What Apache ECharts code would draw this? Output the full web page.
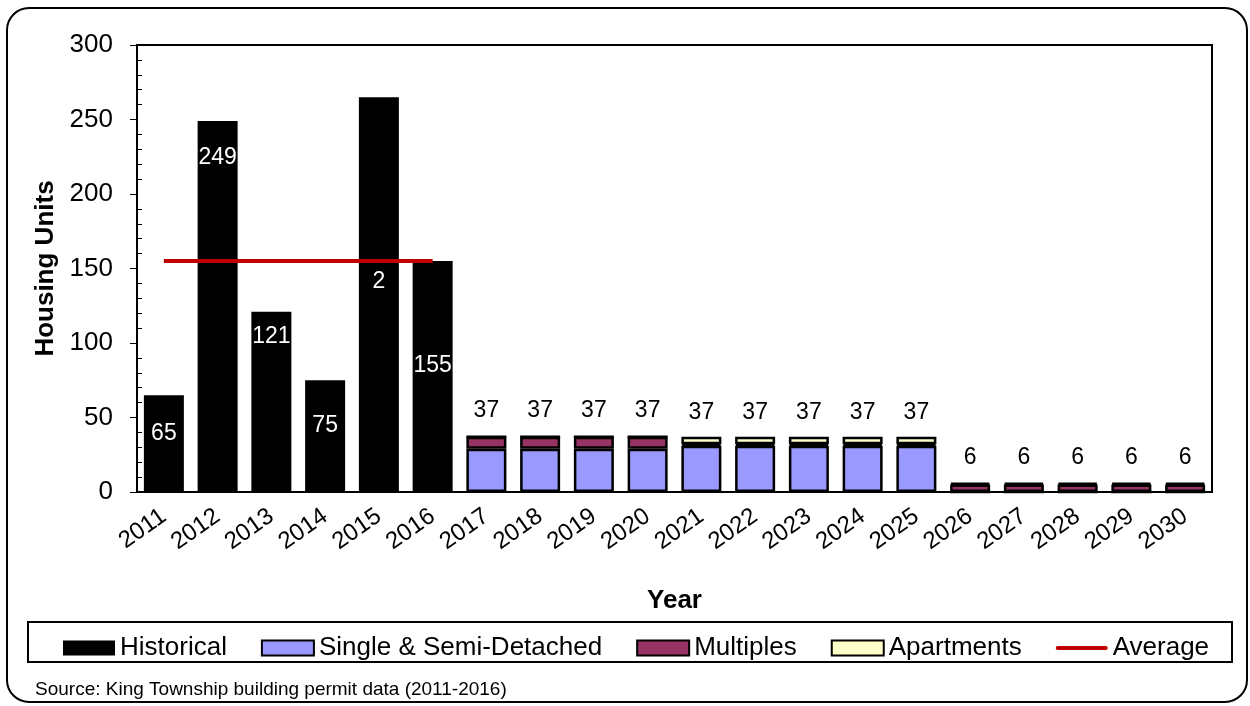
<!DOCTYPE html>
<html>
<head>
<meta charset="utf-8">
<script src="https://cdn.jsdelivr.net/npm/echarts@6/dist/echarts.min.js"></script>
<style>
  html, body { margin: 0; padding: 0; background: #fff; }
  #chart { width: 1250px; height: 706px; }
</style>
</head>
<body>
<div id="chart"></div>
<script>
// chart data
var years = ['2011', '2012', '2013', '2014', '2015', '2016', '2017', '2018', '2019', '2020',
             '2021', '2022', '2023', '2024', '2025', '2026', '2027', '2028', '2029', '2030'];
var historical = [65, 249, 121, 75, 265, 155, null, null, null, null,
                  null, null, null, null, null, null, null, null, null, null];
var historicalLabels = ['65', '249', '121', '75', '2', '155'];
var single = [null, null, null, null, null, null, 29, 29, 29, 29, 31, 31, 31, 31, 31, 0, 0, 0, 0, 0];
var multiples = [null, null, null, null, null, null, 8, 8, 8, 8, 1, 1, 1, 1, 1, 5, 5, 5, 5, 5];
var apartments = [null, null, null, null, null, null, 0, 0, 0, 0, 5, 5, 5, 5, 5, 1, 1, 1, 1, 1];
var totals = [null, null, null, null, null, null, 37, 37, 37, 37, 37, 37, 37, 37, 37, 6, 6, 6, 6, 6];
var average = [155, 155, 155, 155, 155, 155, null, null, null, null,
               null, null, null, null, null, null, null, null, null, null];
var yTicks = [0, 50, 100, 150, 200, 250, 300];

document.addEventListener('DOMContentLoaded', function() {
    var font = '"Liberation Sans", Arial, sans-serif';
    var chart = echarts.init(document.getElementById('chart'));

    // where the white labels sit inside the historical bars (px below bar top)
    var histDistance = [27, 25, 13, 34, 173, 93];

    var histData = historical.map(function(v, i) {
        if (v == null) return v;
        return {
            value: v,
            label: { distance: histDistance[i] }
        };
    });

    var stackStyle = { borderColor: '#000', borderWidth: 2.5 };

    var option = {
        animation: false,
        textStyle: { fontFamily: font },
        grid: {
            left: 137, right: 38, top: 45, bottom: 214,
            show: true, borderColor: '#000', borderWidth: 2
        },
        legend: {
            left: 58, top: 630,
            itemWidth: 52, itemHeight: 15, itemGap: 34,
            textStyle: { fontSize: 26, color: '#000', fontFamily: font },
            data: [
                { name: 'Historical', icon: 'rect' },
                { name: 'Single & Semi-Detached', icon: 'rect' },
                { name: 'Multiples', icon: 'rect' },
                { name: 'Apartments', icon: 'rect' },
                { name: 'Average', icon: 'path://M2,0 L98,0 A4,4 0 0 1 98,8 L2,8 A4,4 0 0 1 2,0 Z' }
            ]
        },
        xAxis: {
            type: 'category',
            data: years,
            name: 'Year',
            nameLocation: 'middle',
            nameGap: 96,
            nameTextStyle: { fontSize: 26, fontWeight: 'bold', color: '#000' },
            axisLine: { lineStyle: { color: '#000', width: 2 } },
            axisTick: { lineStyle: { color: '#000' }, length: 6 },
            axisLabel: { interval: 0, rotate: 35, fontSize: 24, color: '#000', margin: 22 }
        },
        yAxis: [{
            type: 'value',
            min: yTicks[0], max: yTicks[yTicks.length - 1], interval: 50,
            name: 'Housing Units',
            nameLocation: 'middle',
            nameGap: 70,
            nameTextStyle: { fontSize: 26, fontWeight: 'bold', color: '#000' },
            axisLine: { show: true, lineStyle: { color: '#000', width: 2 } },
            axisTick: { show: true, length: 7, lineStyle: { color: '#000' } },
            axisLabel: { fontSize: 26, color: '#000', margin: 24 },
            splitLine: { show: false }
        }, {
            // inward minor ticks
            type: 'value',
            position: 'left',
            min: 0, max: 300, interval: 50,
            axisLine: { show: false },
            axisTick: { show: false, inside: true },
            minorTick: { show: true, splitNumber: 5, length: 5, lineStyle: { color: '#000' } },
            axisLabel: { show: false },
            splitLine: { show: false }
        }],
        series: [{
            name: 'Historical',
            type: 'bar',
            stack: 'units',
            barWidth: 40,
            data: histData,
            itemStyle: { color: '#000', borderColor: '#000', borderWidth: 0 },
            label: {
                show: true,
                position: 'insideTop',
                color: '#fff',
                fontSize: 23,
                formatter: function(p) { return historicalLabels[p.dataIndex]; }
            }
        }, {
            name: 'Single & Semi-Detached',
            type: 'bar',
            stack: 'units',
            data: single,
            itemStyle: Object.assign({ color: '#9999FF' }, stackStyle)
        }, {
            name: 'Multiples',
            type: 'bar',
            stack: 'units',
            data: multiples,
            itemStyle: Object.assign({ color: '#993366' }, stackStyle)
        }, {
            name: 'Apartments',
            type: 'bar',
            stack: 'units',
            data: apartments,
            itemStyle: Object.assign({ color: '#FFFFCC' }, stackStyle),
            label: {
                show: true,
                position: 'top',
                distance: 13,
                color: '#000',
                fontSize: 23,
                formatter: function(p) { return totals[p.dataIndex]; }
            }
        }, {
            name: 'Average',
            type: 'line',
            data: average,
            symbol: 'none',
            z: 5,
            itemStyle: { color: '#C00000' },
            lineStyle: { color: '#C00000', width: 4 }
        }],
        graphic: [{
            type: 'rect',
            shape: { x: 7, y: 8, width: 1240, height: 694, r: 22 },
            style: { fill: 'none', stroke: '#000', lineWidth: 2 },
            silent: true
        }, {
            type: 'rect',
            shape: { x: 28, y: 622, width: 1204, height: 40 },
            style: { fill: 'none', stroke: '#000', lineWidth: 2 },
            silent: true
        }, {
            type: 'text',
            left: 35, top: 680,
            style: {
                text: 'Source: King Township building permit data (2011-2016)',
                fontSize: 19, fill: '#000', fontFamily: font
            }
        }]
    };
    chart.setOption(option);
});
</script>
</body>
</html>
